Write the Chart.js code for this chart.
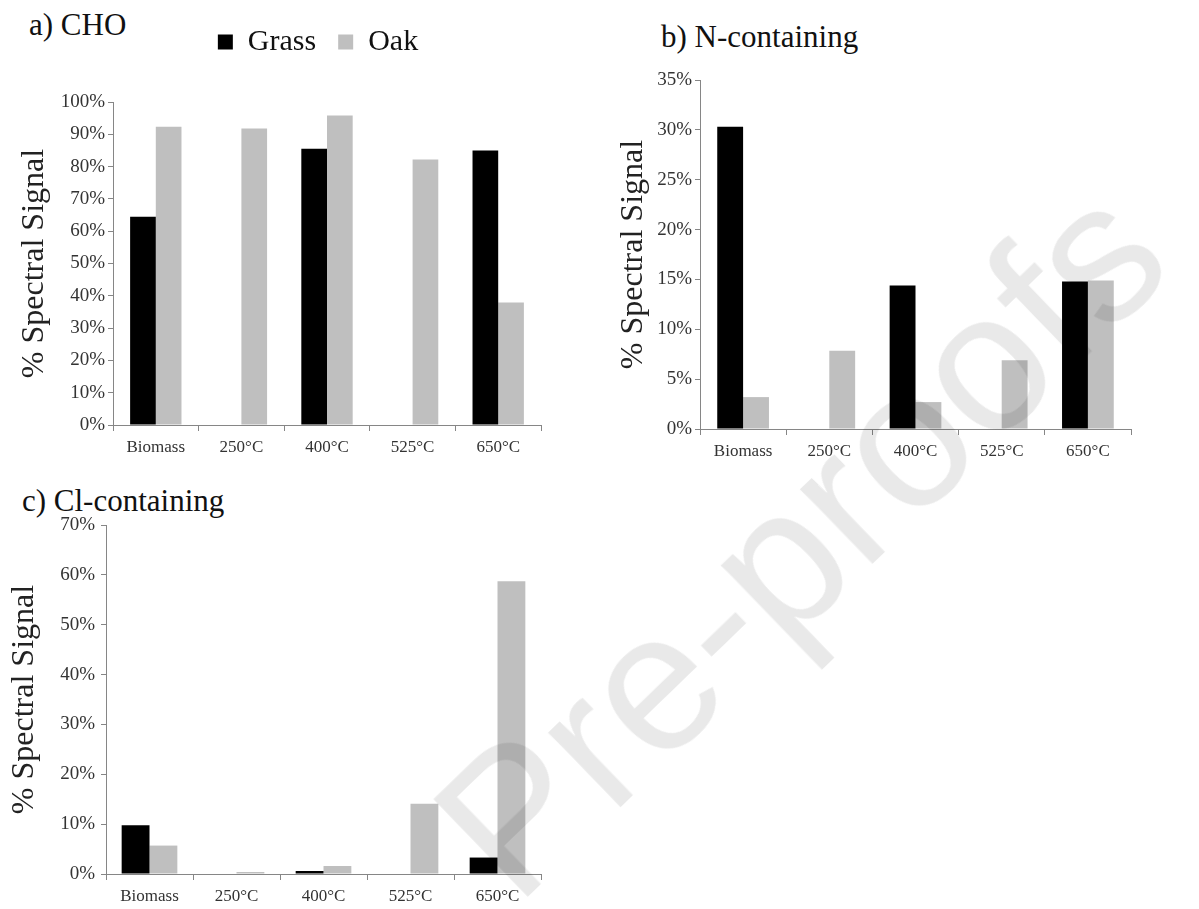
<!DOCTYPE html>
<html>
<head>
<meta charset="utf-8">
<script src="https://cdn.jsdelivr.net/npm/chart.js@4.4.1/dist/chart.umd.min.js"></script>
<style>
  body { margin: 0; background: #ffffff; width: 1199px; height: 909px; overflow: hidden; position: relative; }
  canvas { position: absolute; }
  .panel-title { position: absolute; font-family: "Liberation Serif", "Times New Roman", serif; font-size: 31px; line-height: 31px; color: #111; white-space: nowrap; }
  #watermark { position: absolute; left: 800px; top: 540px; transform: translate(-50%, -50%) rotate(-44deg);
               font-family: "Liberation Sans", Arial, sans-serif; font-size: 197px; line-height: 1; color: rgba(0, 0, 0, 0.085);
               white-space: nowrap; pointer-events: none; z-index: 5; }
</style>
</head>
<body>
<div class="panel-title" style="left:29px; top:9px;">a) CHO</div>
<div class="panel-title" style="left:661px; top:21px;">b) N-containing</div>
<div class="panel-title" style="left:22px; top:485px;">c) Cl-containing</div>

<canvas id="choChart" width="640" height="470" style="left:0; top:0;"></canvas>
<canvas id="nChart" width="600" height="470" style="left:600px; top:0;"></canvas>
<canvas id="clChart" width="620" height="439" style="left:0; top:470px;"></canvas>

<div id="watermark">Pre-proofs</div>

<script>
// Categorias e séries (em %)
const categories = ['Biomass', '250°C', '400°C', '525°C', '650°C'];
const seriesNames = ['Grass', 'Oak'];

const choGrass = [64.5, 0, 85.5, 0, 85.0];
const choOak = [92.3, 91.8, 95.8, 82.2, 37.9];

const nGrass = [30.3, 0, 14.4, 0, 14.8];
const nOak = [3.2, 7.85, 2.7, 6.9, 14.9];

const clGrass = [9.8, 0, 0.6, 0, 3.3];
const clOak = [5.7, 0.4, 1.6, 14.1, 58.7];

const GRASS_COLOR = '#000000';
const OAK_COLOR = '#bfbfbf';
const AXIS_COLOR = '#868686';
const SERIF = 'Liberation Serif';

Chart.defaults.font.family = SERIF;

// Função genérica para os três painéis
function createSignalChart(elementId, grassData, oakData, yMax, yStep, cfg) {
    const ctx = document.getElementById(elementId).getContext('2d');

    const scales = {
        x: {
            type: 'category',
            position: 'bottom',
            grid: { display: true, drawOnChartArea: false, drawTicks: true, tickLength: 6, color: AXIS_COLOR, offset: true },
            border: { display: true, color: AXIS_COLOR, width: 1 },
            ticks: { font: { family: SERIF, size: 17 }, color: '#333333', padding: 6, maxRotation: 0 },
            afterFit: function(scale) { scale.height = cfg.xHeight; }
        },
        y: {
            type: 'linear',
            position: 'left',
            min: 0,
            max: yMax,
            ticks: {
                stepSize: yStep,
                font: { family: SERIF, size: 19 },
                color: '#333333',
                padding: cfg.tickPad,
                callback: function(value) { return value + '%'; }
            },
            grid: { display: true, drawOnChartArea: false, drawTicks: true, tickLength: 5, color: AXIS_COLOR },
            border: { display: true, color: AXIS_COLOR, width: 1 },
            title: {
                display: true,
                text: '% Spectral Signal',
                font: { family: SERIF, size: 32 },
                color: '#222222',
                padding: { top: cfg.titlePad, bottom: 0 }
            },
            afterFit: function(scale) { scale.width = cfg.yWidth; }
        }
    };

    // eixos vazios só para reservar espaço (painel a: posiciona a legenda)
    if (cfg.spacerRight) {
        scales.yR = {
            type: 'linear', position: 'right', display: true,
            grid: { display: false }, border: { display: false }, ticks: { display: false },
            afterFit: function(scale) { scale.width = cfg.spacerRight; }
        };
    }
    if (cfg.spacerTop) {
        scales.xT = {
            type: 'category', position: 'top', display: true,
            grid: { display: false }, border: { display: false }, ticks: { display: false },
            afterFit: function(scale) { scale.height = cfg.spacerTop; }
        };
    }

    return new Chart(ctx, {
        type: 'bar',
        data: {
            labels: categories,
            datasets: [
                {
                    label: seriesNames[0],
                    data: grassData,
                    backgroundColor: GRASS_COLOR,
                    borderWidth: 0,
                    xAxisID: 'x',
                    yAxisID: 'y',
                    barPercentage: 1.0,
                    categoryPercentage: cfg.catPct
                },
                {
                    label: seriesNames[1],
                    data: oakData,
                    backgroundColor: OAK_COLOR,
                    borderWidth: 0,
                    xAxisID: 'x',
                    yAxisID: 'y',
                    barPercentage: 1.0,
                    categoryPercentage: cfg.catPct
                }
            ]
        },
        options: {
            responsive: false,
            animation: false,
            layout: { padding: cfg.padding },
            plugins: {
                legend: {
                    display: cfg.legend,
                    position: 'top',
                    fullSize: true,
                    labels: {
                        font: { family: SERIF, size: 30 },
                        color: '#111111',
                        boxWidth: 15,
                        boxHeight: 15,
                        padding: 22
                    }
                },
                title: { display: false },
                tooltip: { enabled: false }
            },
            scales: scales
        }
    });
}

function drawAll() {
    // a) CHO
    createSignalChart('choChart', choGrass, choOak, 100, 10, {
        padding: { left: 0, top: 5, right: 4, bottom: 5 },
        legend: true,
        yWidth: 113,
        xHeight: 40,
        titlePad: 15,
        tickPad: 3,
        catPct: 0.6,
        spacerRight: 95,
        spacerTop: 35
    });

    // b) N-containing
    createSignalChart('nChart', nGrass, nOak, 35, 5, {
        padding: { left: 0, top: 80, right: 69, bottom: 1 },
        legend: false,
        yWidth: 100,
        xHeight: 40,
        titlePad: 14,
        tickPad: 3,
        catPct: 0.6
    });

    // c) Cl-containing
    createSignalChart('clChart', clGrass, clOak, 70, 10, {
        padding: { left: 0, top: 55, right: 79, bottom: 0 },
        legend: false,
        yWidth: 106,
        xHeight: 35,
        titlePad: 5,
        tickPad: 6,
        catPct: 0.64
    });
}

if (document.fonts && document.fonts.load) {
    Promise.all([
        document.fonts.load('30px "Liberation Serif"'),
        document.fonts.load('18px "Liberation Serif"')
    ]).then(drawAll, drawAll);
} else {
    drawAll();
}
</script>
</body>
</html>
